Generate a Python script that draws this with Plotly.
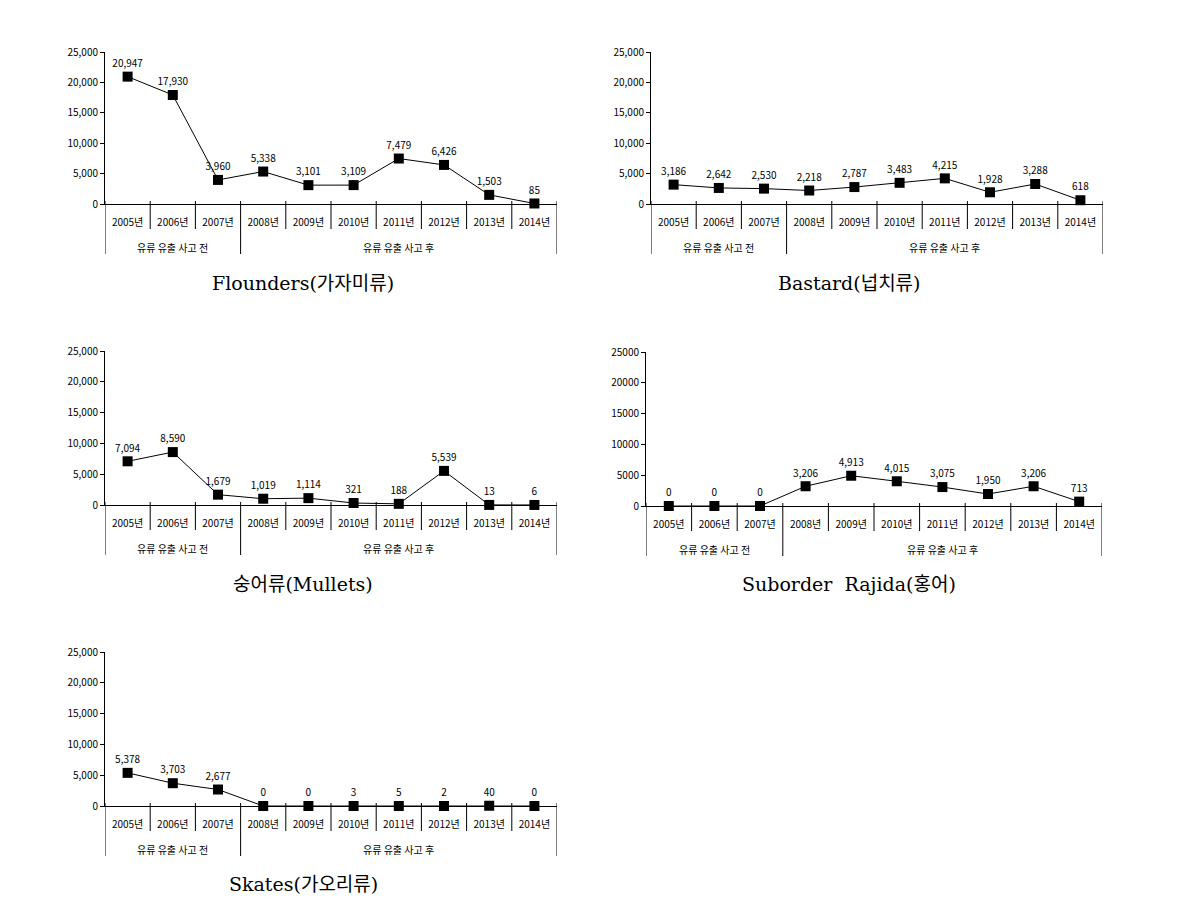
import plotly.graph_objects as go

years = ["2005년", "2006년", "2007년", "2008년", "2009년", "2010년", "2011년", "2012년", "2013년", "2014년"]
groups = ["유류 유출 사고 전"] * 3 + ["유류 유출 사고 후"] * 7

flounders = [20947, 17930, 3960, 5338, 3101, 3109, 7479, 6426, 1503, 85]
bastard = [3186, 2642, 2530, 2218, 2787, 3483, 4215, 1928, 3288, 618]
mullets = [7094, 8590, 1679, 1019, 1114, 321, 188, 5539, 13, 6]
rajida = [0, 0, 0, 3206, 4913, 4015, 3075, 1950, 3206, 713]
skates = [5378, 3703, 2677, 0, 0, 3, 5, 2, 40, 0]

titles = ["Flounders(가자미류)", "Bastard(넙치류)", "숭어류(Mullets)", "Suborder  Rajida(홍어)", "Skates(가오리류)"]
series = [flounders, bastard, mullets, rajida, skates]
tickformats = [",", ",", ",", "d", ","]

W, H = 1194, 913
# panel pixel boxes: (left, right, top, bottom)
boxes = [
    (105, 557, 52, 204),
    (651, 1103, 52, 204),
    (105, 557, 351, 505),
    (646, 1102, 352, 506),
    (105, 557, 652, 806),
]
title_pos = [(303, 283), (849, 283), (303, 584), (849, 584), (303, 884)]

FONT = "Noto Sans CJK KR"
fig = go.Figure()
layout = dict(
    width=W, height=H, margin=dict(l=0, r=0, t=0, b=0, autoexpand=False),
    paper_bgcolor="white", plot_bgcolor="white", showlegend=False,
    font=dict(family=FONT, color="black", size=10),
)
shapes = []
annotations = []

for i, (vals, title, tf, box) in enumerate(zip(series, titles, tickformats, boxes)):
    n = "" if i == 0 else str(i + 1)
    xa, ya = "x" + n, "y" + n
    l, r, t, b = box
    fig.add_trace(go.Scatter(
        x=years, y=vals, xaxis=xa, yaxis=ya,
        mode="lines+markers+text",
        text=[f"{v:,}" for v in vals], textposition="top center",
        textfont=dict(family=FONT, size=10, color="black"),
        line=dict(color="black", width=1),
        marker=dict(symbol="square", size=10, color="black"),
        cliponaxis=False, hoverinfo="skip",
    ))
    layout["xaxis" + n] = dict(
        domain=[l / W, r / W], anchor=ya, type="category", automargin=False,
        range=[-0.5, len(years) - 0.5], showline=True, linecolor="black",
        linewidth=1, showgrid=False, zeroline=False,
        ticks="outside", ticklen=9, tickcolor="rgba(0,0,0,0)",
        tickfont=dict(family=FONT, size=10, color="black"),
    )
    layout["yaxis" + n] = dict(
        domain=[1 - b / H, 1 - t / H], anchor=xa, range=[0, 25000], automargin=False,
        tickvals=[0, 5000, 10000, 15000, 20000, 25000], tickformat=tf,
        showline=True, linecolor="black", linewidth=1, showgrid=False,
        zeroline=False, ticks="outside", ticklen=4, tickcolor="black",
        tickfont=dict(family=FONT, size=10, color="black"),
    )
    ph = b - t
    # dividers
    for k in range(len(years) + 1):
        is_group = k == 0 or k == len(years) or groups[k] != groups[k - 1]
        y1 = -50 / ph if is_group else -25 / ph
        shapes.append(dict(type="line", xref=xa, yref=ya + " domain",
                           x0=k - 0.5, x1=k - 0.5, y0=3 / ph, y1=y1,
                           line=dict(color="black", width=1)))
    # group labels
    start = 0
    for k in range(1, len(years) + 1):
        if k == len(years) or groups[k] != groups[start]:
            annotations.append(dict(
                xref=xa, yref=ya + " domain", x=(start + k - 1) / 2, y=-43 / ph,
                text=groups[start], showarrow=False, xanchor="center", yanchor="middle",
                font=dict(family=FONT, size=10, color="black")))
            start = k
    tx, ty = title_pos[i]
    annotations.append(dict(
        xref="paper", yref="paper", x=tx / W, y=1 - ty / H, text=title,
        showarrow=False, xanchor="center", yanchor="middle",
        font=dict(family="DejaVu Serif, Noto Sans CJK KR", size=19, color="black")))

layout["shapes"] = shapes
layout["annotations"] = annotations
fig.update_layout(**layout)
fig.write_html("out.html")
